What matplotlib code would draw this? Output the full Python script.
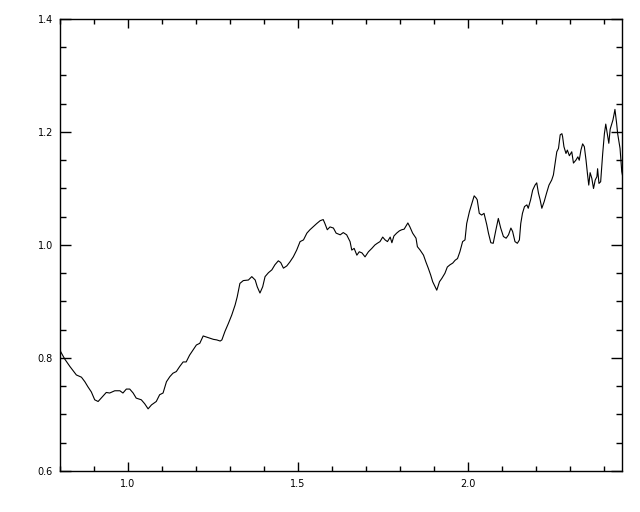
import matplotlib
matplotlib.use("Agg")
import matplotlib.pyplot as plt
from matplotlib.ticker import MultipleLocator

# traced series
xs = [0.800, 0.802, 0.814, 0.829, 0.838, 0.848, 0.863, 0.873, 0.882, 0.892,
      0.902, 0.912, 0.921, 0.936, 0.946, 0.961, 0.976, 0.985, 0.995, 1.005,
      1.015, 1.024, 1.039, 1.049, 1.059, 1.069, 1.083, 1.093, 1.103, 1.113,
      1.123, 1.132, 1.142, 1.152, 1.162, 1.171, 1.181, 1.191, 1.201, 1.211,
      1.221, 1.231, 1.241, 1.251, 1.261, 1.271, 1.276, 1.285, 1.295, 1.305,
      1.315, 1.321, 1.329, 1.339, 1.354, 1.364, 1.374, 1.380, 1.388, 1.396,
      1.403, 1.413, 1.423, 1.432, 1.442, 1.449, 1.457, 1.467, 1.476, 1.486,
      1.496, 1.506, 1.516, 1.526, 1.535, 1.555, 1.565, 1.574, 1.579, 1.586,
      1.594, 1.604, 1.612, 1.624, 1.633, 1.643, 1.653, 1.658, 1.665, 1.673,
      1.680, 1.688, 1.697, 1.707, 1.717, 1.726, 1.733, 1.741, 1.749, 1.756,
      1.763, 1.771, 1.776, 1.782, 1.790, 1.798, 1.805, 1.812, 1.818, 1.823,
      1.829, 1.837, 1.847, 1.851, 1.859, 1.869, 1.876, 1.883, 1.890, 1.896,
      1.903, 1.908, 1.916, 1.923, 1.932, 1.939, 1.947, 1.955, 1.962, 1.969,
      1.976, 1.984, 1.991, 1.996, 2.004, 2.011, 2.018, 2.024, 2.027, 2.033,
      2.040, 2.047, 2.055, 2.060, 2.067, 2.074, 2.082, 2.089, 2.096, 2.104,
      2.112, 2.119, 2.126, 2.131, 2.138, 2.145, 2.151, 2.155, 2.160, 2.166,
      2.173, 2.177, 2.184, 2.190, 2.197, 2.202, 2.207, 2.212, 2.217, 2.224,
      2.231, 2.238, 2.246, 2.251, 2.256, 2.261, 2.266, 2.271, 2.276, 2.278,
      2.282, 2.288, 2.292, 2.298, 2.305, 2.310, 2.317, 2.323, 2.327, 2.332,
      2.337, 2.342, 2.347, 2.351, 2.355, 2.359, 2.364, 2.369, 2.374, 2.379,
      2.381, 2.385, 2.390, 2.396, 2.401, 2.405, 2.410, 2.414, 2.418, 2.423,
      2.426, 2.429, 2.432, 2.437, 2.440, 2.443, 2.447, 2.452, 2.455]
ys = [0.815, 0.811, 0.798, 0.785, 0.778, 0.770, 0.766, 0.758, 0.749, 0.740,
      0.726, 0.723, 0.729, 0.739, 0.738, 0.742, 0.742, 0.738, 0.745, 0.745,
      0.738, 0.729, 0.726, 0.719, 0.710, 0.717, 0.723, 0.735, 0.738, 0.758,
      0.767, 0.773, 0.776, 0.785, 0.793, 0.793, 0.805, 0.814, 0.823, 0.826,
      0.839, 0.837, 0.835, 0.833, 0.832, 0.830, 0.832, 0.847, 0.861, 0.876,
      0.894, 0.908, 0.932, 0.937, 0.938, 0.944, 0.938, 0.926, 0.915, 0.926,
      0.944, 0.951, 0.956, 0.965, 0.972, 0.969, 0.959, 0.963, 0.970, 0.979,
      0.991, 1.006, 1.009, 1.021, 1.027, 1.038, 1.043, 1.045, 1.038, 1.027,
      1.032, 1.030, 1.021, 1.018, 1.022, 1.018, 1.006, 0.991, 0.994, 0.982,
      0.988, 0.986, 0.979, 0.988, 0.994, 1.000, 1.003, 1.006, 1.014, 1.009,
      1.006, 1.014, 1.004, 1.016, 1.021, 1.025, 1.027, 1.028, 1.034, 1.039,
      1.032, 1.021, 1.012, 0.997, 0.991, 0.982, 0.970, 0.959, 0.947, 0.935,
      0.926, 0.920, 0.935, 0.941, 0.950, 0.961, 0.965, 0.968, 0.973, 0.976,
      0.988, 1.006, 1.009, 1.038, 1.059, 1.073, 1.087, 1.083, 1.080, 1.056,
      1.053, 1.056, 1.036, 1.021, 1.004, 1.003, 1.027, 1.047, 1.030, 1.015,
      1.012, 1.018, 1.030, 1.024, 1.006, 1.003, 1.009, 1.038, 1.056, 1.068,
      1.071, 1.065, 1.080, 1.097, 1.106, 1.110, 1.092, 1.080, 1.065, 1.077,
      1.092, 1.106, 1.115, 1.124, 1.145, 1.165, 1.171, 1.195, 1.197, 1.192,
      1.174, 1.162, 1.168, 1.158, 1.165, 1.145, 1.150, 1.156, 1.150, 1.168,
      1.179, 1.174, 1.150, 1.127, 1.106, 1.128, 1.118, 1.100, 1.115, 1.121,
      1.135, 1.109, 1.112, 1.162, 1.197, 1.214, 1.195, 1.180, 1.205, 1.215,
      1.221, 1.230, 1.240, 1.215, 1.197, 1.186, 1.171, 1.130, 1.121]

x_range = (0.8, 2.453)
y_range = (0.6, 1.4)

fig = plt.figure(figsize=(6.4, 5.12), dpi=100)
ax = fig.add_axes([0.0938, 0.0801, 0.8782, 0.8828])

ax.plot(xs, ys, color='black', lw=0.8)

ax.set_xlim(*x_range)
ax.set_ylim(*y_range)

ax.xaxis.set_major_locator(MultipleLocator(0.5))
ax.xaxis.set_minor_locator(MultipleLocator(0.1))
ax.yaxis.set_major_locator(MultipleLocator(0.2))
ax.yaxis.set_minor_locator(MultipleLocator(0.05))
ax.xaxis.set_major_formatter(plt.FormatStrFormatter('%.1f'))
ax.yaxis.set_major_formatter(plt.FormatStrFormatter('%.1f'))

for s in ax.spines.values():
    s.set_linewidth(1.0)

ax.tick_params(axis='both', which='both', direction='in', top=True, right=True,
               width=1.0, labelsize=7, colors='black')
ax.tick_params(axis='x', which='major', length=6.5, pad=6)
ax.tick_params(axis='x', which='minor', length=3.6)
ax.tick_params(axis='y', which='major', length=8, pad=5)
ax.tick_params(axis='y', which='minor', length=4.3)

fig.savefig('out.png', dpi=100)
